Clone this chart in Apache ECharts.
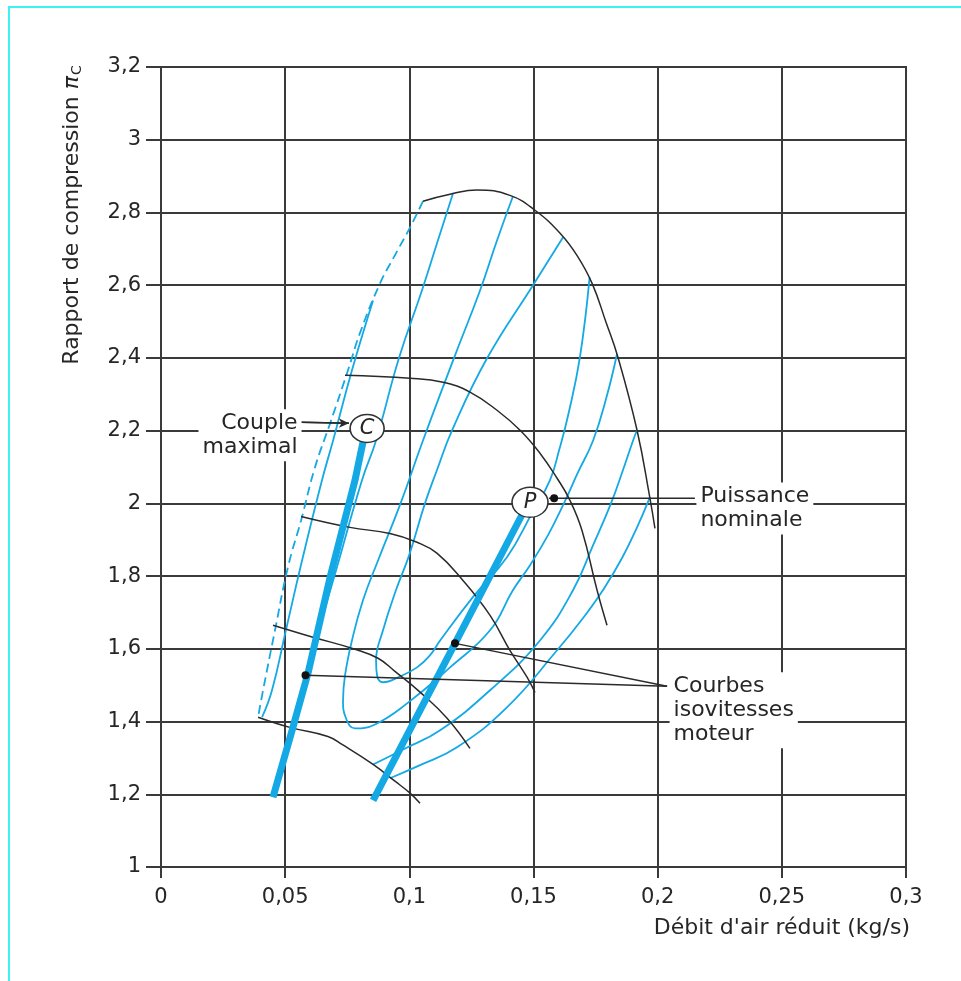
<!DOCTYPE html>
<html><head><meta charset="utf-8">
<script src="https://cdn.jsdelivr.net/npm/echarts/dist/echarts.min.js"></script>
<style>html,body{margin:0;padding:0;background:#fff}#c{width:961px;height:981px}</style>
</head><body><div id="c"></div>
<script>
// ---- axis ticks ----
const xTicks = [0, 0.05, 0.1, 0.15, 0.2, 0.25, 0.3];
const yTicks = [1, 1.2, 1.4, 1.6, 1.8, 2, 2.2, 2.4, 2.6, 2.8, 3, 3.2];

// ---- compressor map boundary (top + choke) ----
const envelope = [[0.1055,2.831],[0.1164,2.850],[0.1273,2.862],[0.1405,2.847],[0.1506,2.806],[0.1607,2.743],[0.1675,2.682],[0.1736,2.605],[0.1792,2.498],[0.1840,2.402],[0.1917,2.201],[0.1969,2.014],[0.1989,1.931]];
// ---- surge line (dashed) ----
const surgeLine = [[0.1055,2.831],[0.1003,2.759],[0.0940,2.680],[0.0882,2.605],[0.0801,2.468],[0.0753,2.366],[0.0681,2.220],[0.0620,2.099],[0.0564,1.953],[0.0511,1.824],[0.0459,1.651],[0.0411,1.486],[0.0391,1.412]];

// ---- efficiency contours (blue thin) ----
const eta1 = [[0.1619,2.732],[0.1498,2.600],[0.1313,2.399],[0.1172,2.201],[0.1111,2.091],[0.1063,2.000],[0.0999,1.857],[0.0946,1.761],[0.0894,1.651],[0.0866,1.568],[0.0870,1.527],[0.0894,1.508],[0.0962,1.524],[0.1031,1.549],[0.1083,1.582],[0.1124,1.623],[0.1256,1.742],[0.1393,1.852],[0.1494,1.973],[0.1566,2.063],[0.1603,2.146],[0.1639,2.241],[0.1687,2.402],[0.1726,2.622]];
const eta2 = [[0.1417,2.844],[0.1353,2.723],[0.1285,2.586],[0.1184,2.407],[0.1055,2.173],[0.0962,1.995],[0.0874,1.843],[0.0813,1.733],[0.0769,1.623],[0.0741,1.527],[0.0733,1.458],[0.0745,1.409],[0.0781,1.381],[0.0862,1.392],[0.0991,1.450],[0.1164,1.549],[0.1325,1.651],[0.1417,1.761],[0.1486,1.830],[0.1558,1.912],[0.1619,1.995],[0.1679,2.085],[0.1740,2.173],[0.1796,2.297],[0.1836,2.410]];
const eta3Left = [[0.1176,2.853],[0.1115,2.723],[0.1051,2.586],[0.0958,2.399],[0.0866,2.173],[0.0809,2.063],[0.0705,1.816],[0.0600,1.568],[0.0544,1.425],[0.0528,1.383]];
const eta3Right = [[0.0854,1.282],[0.0983,1.326],[0.1124,1.376],[0.1325,1.486],[0.1526,1.623],[0.1659,1.761],[0.1740,1.885],[0.1812,2.000],[0.1860,2.091],[0.1901,2.173],[0.1917,2.201]];
const eta4Left = [[0.0854,2.558],[0.0769,2.366],[0.0693,2.173],[0.0648,2.063],[0.0568,1.843],[0.0503,1.651],[0.0447,1.486],[0.0407,1.412]];
const eta4Right = [[0.0922,1.244],[0.1043,1.280],[0.1192,1.329],[0.1393,1.439],[0.1595,1.596],[0.1699,1.684],[0.1784,1.766],[0.1856,1.849],[0.1917,1.934],[0.1969,2.017]];

// ---- compressor speed lines (black thin) ----
const speed1 = [[0.0741,2.352],[0.1003,2.344],[0.1136,2.333],[0.1244,2.306],[0.1353,2.256],[0.1446,2.201],[0.1526,2.138],[0.1595,2.069],[0.1647,2.008],[0.1695,1.926],[0.1756,1.761],[0.1796,1.665]];
const speed2 = [[0.0564,1.964],[0.0761,1.934],[0.0922,1.917],[0.1031,1.893],[0.1111,1.863],[0.1216,1.788],[0.1325,1.692],[0.1405,1.596],[0.1474,1.522],[0.1506,1.480]];
const speed3 = [[0.0451,1.665],[0.0612,1.632],[0.0781,1.599],[0.0874,1.574],[0.0942,1.538],[0.1043,1.481],[0.1152,1.409],[0.1244,1.326]];
const speed4 = [[0.0391,1.412],[0.0519,1.384],[0.0672,1.359],[0.0729,1.337],[0.0854,1.282],[0.0942,1.236],[0.1003,1.203],[0.1043,1.175]];

// ---- engine operating lines (blue thick) ----
const torqueLine = [[0.0820,2.190],[0.0781,2.063],[0.0681,1.797],[0.0592,1.533],[0.0528,1.376],[0.0451,1.192]];
const powerLine = [[0.1470,1.990],[0.1184,1.615],[0.0854,1.183]];

// ---- annotations ----
const markC = [0.0830, 2.206];
const markP = [0.1486, 2.003];
const dots = [[0.0582,1.527],[0.1184,1.615],[0.1583,2.014]];
const coupleArrow = [[0.0564,2.223],[0.0757,2.220]];
const powerLeader = [[0.1562,2.014],[0.2150,2.014]];
const isoLeader1 = [[0.0582,1.527],[0.2038,1.497]];
const isoLeader2 = [[0.1184,1.615],[0.2038,1.497]];
const coupleLabel = [0.0568, 2.187];
const powerLabel = [0.2154, 1.986];
const isoLabel = [0.2046, 1.431];

const BLUE = '#14a9e5';
const DARK = '#2a2a2a';
const GRIDC = '#3a3a3a';
const TXT = '#262626';
const FONT = 'DejaVu Sans';
const fmt = v => String(+(+v).toFixed(2)).replace('.', ',');

function ln(data, color, width, extra) {
  return Object.assign({type:'line', data: data, showSymbol:false, symbol:'none', smooth:0.45,
    lineStyle:{color:color, width:width}, silent:true, animation:false, z:3}, extra || {});
}
function txt(point, text, pos) {
  return {type:'scatter', data:[point], symbolSize:1, itemStyle:{color:'rgba(0,0,0,0)', opacity:1}, silent:true, z:8,
    label:{show:true, position:pos, distance:0, formatter:text, fontFamily:FONT, fontSize:22, lineHeight:24,
      color:TXT, opacity:1, backgroundColor:'#fff', padding:[2,4,2,4]}};
}

const chart = echarts.init(document.getElementById('c'), null, {renderer:'canvas'});
chart.setOption({
  animation:false,
  backgroundColor:'#fff',
  grid:{left:161, right:55, top:67, bottom:114, show:true, borderColor:GRIDC, borderWidth:2, backgroundColor:'rgba(0,0,0,0)', outerBoundsMode:'none'},
  xAxis:{type:'value', min:xTicks[0], max:xTicks[xTicks.length-1], interval:xTicks[1]-xTicks[0],
    axisLine:{show:true, onZero:false, lineStyle:{color:GRIDC, width:2}},
    axisTick:{show:true, inside:false, length:11, lineStyle:{color:GRIDC, width:2}},
    axisLabel:{margin:20, fontFamily:FONT, fontSize:21, color:TXT, formatter:fmt, showMinLabel:true, showMaxLabel:true},
    splitLine:{show:true, lineStyle:{color:GRIDC, width:2}}},
  yAxis:{type:'value', min:yTicks[0], max:yTicks[yTicks.length-1], interval:0.2,
    axisLine:{show:true, onZero:false, lineStyle:{color:GRIDC, width:2}},
    axisTick:{show:true, inside:false, length:15, lineStyle:{color:GRIDC, width:2}},
    axisLabel:{margin:20, fontFamily:FONT, fontSize:21, color:TXT, formatter:fmt, showMinLabel:true, showMaxLabel:true},
    splitLine:{show:true, lineStyle:{color:GRIDC, width:2}}},
  graphic:[
    {type:'rect', silent:true, z:-10, shape:{x:9, y:7, width:980, height:1000}, style:{fill:'none', stroke:'#3ef2f2', lineWidth:2}},
    {type:'text', silent:true, x:72, y:215, rotation:Math.PI/2,
      style:{text:'Rapport de compression {pi|π}{sub|C}', font:'22px "DejaVu Sans"', fill:TXT, align:'center', verticalAlign:'middle',
        rich:{pi:{fontFamily:FONT, fontSize:22, fontStyle:'italic', fill:TXT}, sub:{fontFamily:FONT, fontSize:14, fill:TXT, padding:[10,0,0,1]}}}},
    {type:'text', silent:true, x:910, y:928,
      style:{text:"Débit d'air réduit (kg/s)", font:'22px "DejaVu Sans"', fill:TXT, align:'right', verticalAlign:'middle'}}
  ],
  series:[
    ln(surgeLine, BLUE, 1.8, {lineStyle:{color:BLUE, width:1.8, type:[9,5]}}),
    ln(eta4Left, BLUE, 1.8),
    ln(eta4Right, BLUE, 1.8),
    ln(eta3Left, BLUE, 1.8),
    ln(eta3Right, BLUE, 1.8),
    ln(eta2, BLUE, 1.8),
    ln(eta1, BLUE, 1.8),
    ln(envelope, DARK, 1.5),
    ln(speed1, DARK, 1.5),
    ln(speed2, DARK, 1.5),
    ln(speed3, DARK, 1.5),
    ln(speed4, DARK, 1.5),
    ln(torqueLine, BLUE, 7, {smooth:false, z:4}),
    ln(powerLine, BLUE, 7, {smooth:false, z:4}),
    ln(powerLeader, DARK, 1.5, {smooth:false, z:5}),
    ln(isoLeader1, DARK, 1.5, {smooth:false, z:5}),
    ln(isoLeader2, DARK, 1.5, {smooth:false, z:5}),
    ln(coupleArrow, DARK, 1.5, {smooth:false, z:5,
      markLine:{silent:true, animation:false, symbol:['none','arrow'], symbolSize:[7,10], label:{show:false},
        lineStyle:{color:DARK, width:1.5, type:'solid'}, data:[[{coord:coupleArrow[0]},{coord:coupleArrow[1]}]]}}),
    {type:'scatter', data:dots, symbol:'circle', symbolSize:8, itemStyle:{color:'#111', opacity:1}, silent:true, z:6},
    {type:'scatter', data:[markC], symbol:'circle', symbolSize:[34,28], silent:true, z:7,
      itemStyle:{color:'#fff', borderColor:'#333', borderWidth:1.5, opacity:1},
      label:{show:true, position:'inside', formatter:'C', fontFamily:FONT, fontStyle:'italic', fontSize:21, color:TXT, opacity:1}},
    {type:'scatter', data:[markP], symbol:'circle', symbolSize:[36,30], silent:true, z:7,
      itemStyle:{color:'#fff', borderColor:'#333', borderWidth:1.5, opacity:1},
      label:{show:true, position:'inside', formatter:'P', fontFamily:FONT, fontStyle:'italic', fontSize:21, color:TXT, opacity:1}},
    txt(coupleLabel, 'Couple\nmaximal', 'left'),
    txt(powerLabel, 'Puissance\nnominale', 'right'),
    txt(isoLabel, 'Courbes\nisovitesses\nmoteur', 'right')
  ]
});
</script></body></html>
